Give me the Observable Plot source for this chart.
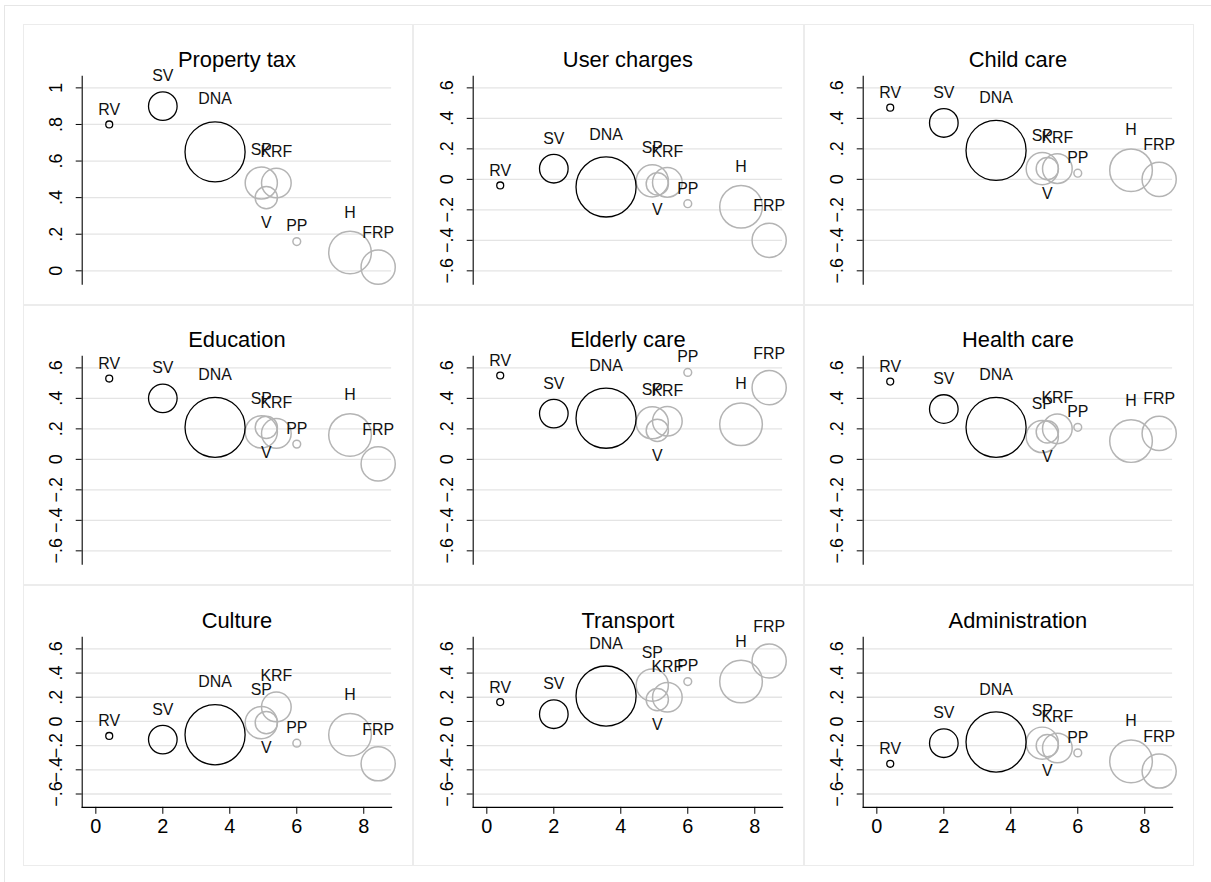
<!DOCTYPE html>
<html>
<head>
<meta charset="utf-8">
<script src="https://cdn.jsdelivr.net/npm/d3@7"></script>
<script src="https://cdn.jsdelivr.net/npm/@observablehq/plot@0.6"></script>
<style>
  html, body { margin: 0; padding: 0; background: #fff; }
  #chart { position: relative; width: 1211px; height: 882px; overflow: hidden;
           font-family: "Liberation Sans", Arial, Helvetica, sans-serif; }
  .outer { position: absolute; left: 4px; top: 5px; width: 1220px; height: 890px;
           border: 1px solid #e6e6e6; box-sizing: border-box; }
  .panel { position: absolute; border: 1px solid #ececec; box-sizing: border-box; background: #fff; }
  .panel svg { position: absolute; left: -1px; top: -1px; overflow: visible; }
</style>
</head>
<body>
<div id="chart"><div class="outer"></div></div>
<script>
// Parties, their left-right placement (x) and size (bubble area)
const parties   = ["RV", "SV", "DNA", "SP", "V", "KRF", "PP", "H", "FRP"];
const leftRight = [0.4, 2.0, 3.56, 4.94, 5.09, 5.39, 6.0, 7.59, 8.43];
const partySize = [0.4, 6.8, 30, 8.6, 4.1, 7.3, 0.5, 15.1, 9.7];
const socialist = ["RV", "SV", "DNA"];
const labelBelow = ["V"];

// Service areas (one panel each)
const services = ["Property tax", "User charges", "Child care",
                  "Education", "Elderly care", "Health care",
                  "Culture", "Transport", "Administration"];

// Preference scores by party, in the order of `parties`
const propertyTax    = [0.80, 0.90, 0.65, 0.48, 0.40, 0.48, 0.16, 0.10, 0.02];
const userCharges    = [-0.04, 0.07, -0.05, -0.01, -0.03, -0.02, -0.16, -0.18, -0.40];
const childCare      = [0.47, 0.37, 0.19, 0.07, 0.07, 0.07, 0.04, 0.06, 0.00];
const education      = [0.53, 0.40, 0.21, 0.18, 0.21, 0.17, 0.10, 0.16, -0.03];
const elderlyCare    = [0.55, 0.30, 0.27, 0.24, 0.19, 0.25, 0.57, 0.23, 0.47];
const healthCare     = [0.51, 0.33, 0.21, 0.15, 0.18, 0.20, 0.21, 0.12, 0.17];
const culture        = [-0.12, -0.15, -0.11, -0.01, -0.01, 0.12, -0.18, -0.11, -0.35];
const transport      = [0.16, 0.06, 0.21, 0.30, 0.18, 0.20, 0.33, 0.33, 0.50];
const administration = [-0.35, -0.18, -0.17, -0.18, -0.20, -0.22, -0.26, -0.33, -0.41];

const serviceValues = [propertyTax, userCharges, childCare, education, elderlyCare,
                       healthCare, culture, transport, administration];

// Axis ticks
const xTicks = [0, 2, 4, 6, 8];
const yTicksProperty = [0, 0.2, 0.4, 0.6, 0.8, 1];
const yTicksOther = [-0.6, -0.4, -0.2, 0, 0.2, 0.4, 0.6];

// Stata-style labels: ".4", "−.2", "0", "1"
const fmt = d => {
  const s = String(+d.toFixed(1));
  return s.replace(/^(-?)0\./, "$1.").replace("-", "\u2212");
};

const font = "Liberation Sans, Arial, Helvetica, sans-serif";
const maxSize = d3.max(partySize);
const maxR = 30.2;
const rFn = d3.scaleSqrt().domain([0, maxSize]).range([0, maxR]);

// Grid geometry
const colLeft = [23, 413, 804], colWidth = [390, 391, 390], colMarginLeft = [59, 60, 59];
const rowTop = [24, 305, 585], rowHeight = [281, 280, 281];
const rowMarginTop = [52, 51, 52], rowMarginBottom = [20, 20, 58];

const chart = document.getElementById("chart");

services.forEach((title, i) => {
  const row = Math.floor(i / 3), col = i % 3;
  const values = serviceValues[i];
  const data = parties.map((p, j) => ({party: p, lr: leftRight[j], size: partySize[j], value: values[j]}));
  const yTicks = i === 0 ? yTicksProperty : yTicksOther;
  const bottomRow = row === 2;

  // Party names sit above each bubble (below for V), clear of its rim
  const labelMarks = data.map(d => {
    const off = 1.43 * (rFn(d.size) + 0.6) + 8.8;
    return Plot.text([d], {
      x: "lr", y: "value", text: "party",
      dy: labelBelow.includes(d.party) ? off : -off,
      lineAnchor: "middle",
      fontSize: 16, fill: "#111"
    });
  });

  const svg = Plot.plot({
    width: colWidth[col],
    height: rowHeight[row],
    marginLeft: colMarginLeft[col],
    marginRight: colWidth[col] - colMarginLeft[col] - 311,
    marginTop: rowMarginTop[row],
    marginBottom: rowMarginBottom[row],
    style: {fontFamily: font, background: "transparent", color: "#000", overflow: "visible"},
    x: {domain: [0, d3.max(leftRight)], insetLeft: 13.7, insetRight: 13.5, axis: null},
    y: {domain: d3.extent(yTicks), insetTop: 11.7, insetBottom: 13.4, axis: null},
    r: {type: "sqrt", domain: [0, maxSize], range: [0, maxR]},
    marks: [
      Plot.ruleY(yTicks, {stroke: "#e4e4e4", strokeWidth: 1.3}),
      Plot.frame({anchor: "left", stroke: "#000", strokeWidth: 1.1}),
      Plot.axisY(yTicks, {tickSize: 6, tickFormat: () => "", stroke: "#000", label: null}),
      Plot.text(yTicks, {y: d => d, text: fmt, frameAnchor: "left", dx: -26, rotate: -90,
                         textAnchor: "middle", lineAnchor: "middle", fontSize: 18, fill: "#000"}),
      bottomRow ? Plot.frame({anchor: "bottom", stroke: "#000", strokeWidth: 1.1}) : null,
      bottomRow ? Plot.axisX(xTicks, {tickSize: 7, tickPadding: 5, fontSize: 20, label: null,
                                      tickFormat: d => String(d), stroke: "#000", fill: "#000"}) : null,
      Plot.dot(data.filter(d => !socialist.includes(d.party)), {x: "lr", y: "value", r: "size", stroke: "#b4b4b4", strokeWidth: 1.5, fill: "none"}),
      Plot.dot(data.filter(d => socialist.includes(d.party)), {x: "lr", y: "value", r: "size", stroke: "#000", strokeWidth: 1.3, fill: "none"}),
      ...labelMarks,
      Plot.text([title], {frameAnchor: "top", dy: -16, lineAnchor: "middle", fontSize: 22, fill: "#000"})
    ]
  });

  const panel = document.createElement("div");
  panel.className = "panel";
  panel.style.left = colLeft[col] + "px";
  panel.style.top = rowTop[row] + "px";
  panel.style.width = colWidth[col] + "px";
  panel.style.height = rowHeight[row] + "px";
  panel.appendChild(svg);
  chart.appendChild(panel);
});
</script>
</body>
</html>
